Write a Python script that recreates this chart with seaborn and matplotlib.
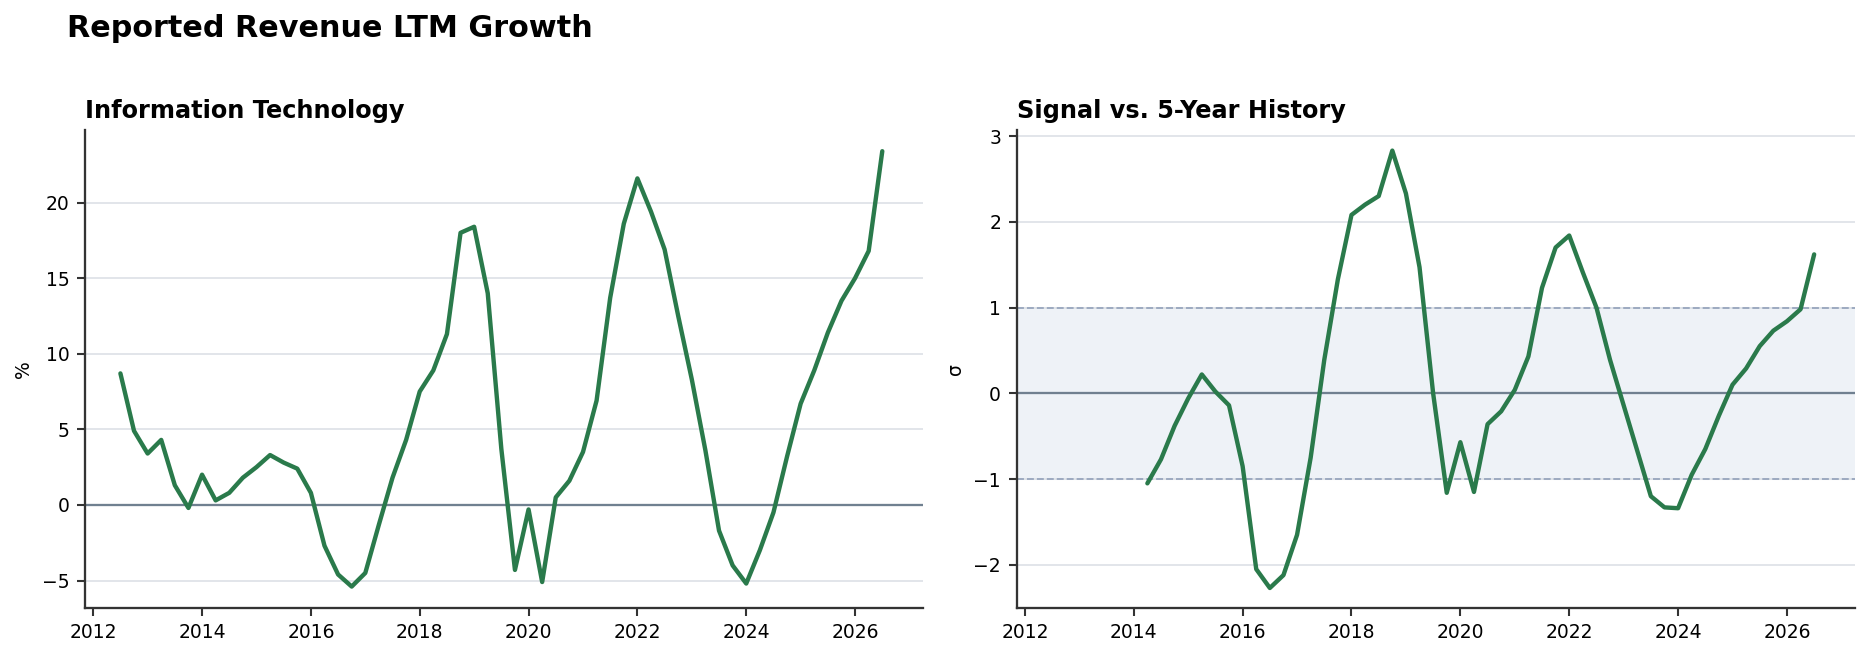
import numpy as np
import pandas as pd
import matplotlib
matplotlib.use("Agg")
import matplotlib.pyplot as plt
import seaborn as sns

# quarterly dates (decimal years)
growth_start = 2012.5
signal_start = 2014.25

# Reported revenue LTM growth, %
growth = [8.7, 4.9, 3.4, 4.3, 1.3, -0.2, 2.0, 0.3, 0.8, 1.8, 2.5, 3.3, 2.8, 2.4,
          0.8, -2.7, -4.6, -5.4, -4.5, -1.3, 1.8, 4.3, 7.5, 8.9, 11.3, 18.0, 18.4,
          14.0, 3.7, -4.3, -0.3, -5.1, 0.5, 1.6, 3.5, 6.9, 13.7, 18.6, 21.6, 19.4,
          16.9, 12.5, 8.3, 3.6, -1.7, -4.0, -5.2, -3.0, -0.5, 3.2, 6.7, 8.9, 11.4,
          13.5, 15.0, 16.8, 23.4]

# z-score vs 5-year history
signal = [-1.05, -0.77, -0.38, -0.06, 0.22, 0.02, -0.14, -0.85, -2.05, -2.27,
          -2.12, -1.65, -0.75, 0.39, 1.33, 2.08, 2.2, 2.3, 2.83, 2.33, 1.47, 0.0,
          -1.16, -0.57, -1.15, -0.36, -0.21, 0.04, 0.43, 1.23, 1.7, 1.84, 1.41,
          1.0, 0.39, -0.14, -0.67, -1.2, -1.33, -1.34, -0.95, -0.65, -0.26, 0.1,
          0.29, 0.55, 0.73, 0.84, 0.98, 1.62]

green = "#2a7a4b"
slate = "#708090"

df_g = pd.DataFrame({"date": growth_start + 0.25 * np.arange(len(growth)), "value": growth})
df_s = pd.DataFrame({"date": signal_start + 0.25 * np.arange(len(signal)), "value": signal})

sns.set_theme(style="white")
plt.rcParams['font.family'] = ['DejaVu Sans']
plt.rcParams.update({"text.color": "black", "axes.labelcolor": "black",
                     "xtick.color": "black", "ytick.color": "black"})

fig = plt.figure(figsize=(1869 / 150, 656 / 150), dpi=150)
ax1 = fig.add_axes([0.0455, 0.0736, 0.4484, 0.7282])
ax2 = fig.add_axes([0.544, 0.0736, 0.4485, 0.7282])

# left: growth
ax1.grid(axis="y", color="#dde0e6", lw=0.8)
ax1.axhline(0, color=slate, lw=1.1, zorder=1)
sns.lineplot(data=df_g, x="date", y="value", ax=ax1, color=green, lw=2.1, zorder=3)
ax1.set_title("Information Technology", loc="left", fontsize=11.5, fontweight="bold")
ax1.set_ylabel("%", fontsize=9)
ax1.set_yticks([-5, 0, 5, 10, 15, 20])
ax1.set_ylim(-6.8, 24.8)

# right: signal vs history
ax2.axhspan(-1, 1, color="#eef2f7", zorder=0)
ax2.grid(axis="y", color="#dde0e6", lw=0.8)
ax2.axhline(1, color="#9aa8bf", lw=0.9, ls="--", zorder=1)
ax2.axhline(-1, color="#9aa8bf", lw=0.9, ls="--", zorder=1)
ax2.axhline(0, color=slate, lw=1.1, zorder=1)
sns.lineplot(data=df_s, x="date", y="value", ax=ax2, color=green, lw=2.1, zorder=3)
ax2.set_title("Signal vs. 5-Year History", loc="left", fontsize=11.5, fontweight="bold")
ax2.set_ylabel("σ", fontsize=9)
ax2.set_yticks([-2, -1, 0, 1, 2, 3])
ax2.set_ylim(-2.5, 3.07)

for ax in (ax1, ax2):
    ax.set_xlabel("")
    ax.set_xlim(2011.85, 2027.25)
    ax.set_xticks([2012, 2014, 2016, 2018, 2020, 2022, 2024, 2026])
    ax.set_xticklabels(["2012", "2014", "2016", "2018", "2020", "2022", "2024", "2026"])
    ax.set_axisbelow(True)
    ax.tick_params(axis="both", labelsize=9, length=4, width=1, color="#333333",
                   left=True, bottom=True)
    for side in ("top", "right"):
        ax.spines[side].set_visible(False)
    for side in ("left", "bottom"):
        ax.spines[side].set_color("#333333")
        ax.spines[side].set_linewidth(1.1)

fig.text(0.036, 0.978, "Reported Revenue LTM Growth", fontsize=14.5, fontweight="bold",
         va="top", ha="left")

fig.savefig("out.png", dpi=150)
